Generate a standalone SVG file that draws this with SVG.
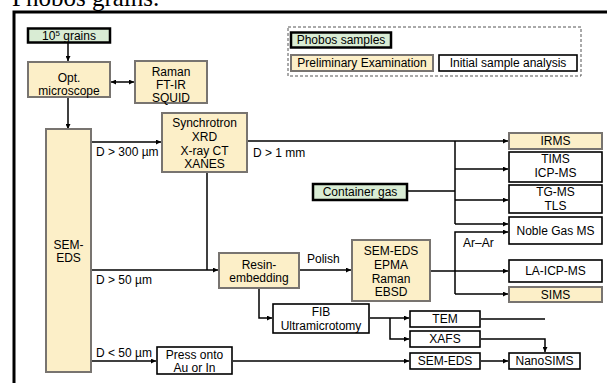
<svg xmlns="http://www.w3.org/2000/svg" width="607" height="383" viewBox="0 0 607 383">
<defs>
<marker id="ah" viewBox="0 0 10 10" refX="10" refY="5" markerWidth="5" markerHeight="5" orient="auto-start-reverse" markerUnits="userSpaceOnUse"><path d="M0,0 L10,5 L0,10 z" fill="#000"/></marker>
<style>
text{font-family:"Liberation Sans",Arial,sans-serif;font-size:12px;fill:#000;text-anchor:middle}
.lbl{text-anchor:start}
.pe{fill:#fcefc8;stroke:#787470;stroke-width:2}
.ps{fill:#d9ecd4;stroke:#000;stroke-width:2.5}
.ia{fill:#fff;stroke:#000;stroke-width:1.6}
.c{fill:none;stroke:#000;stroke-width:1.5}
.a{marker-end:url(#ah)}
</style>
</defs>
<rect width="607" height="383" fill="#fff"/>
<text x="12" y="6" style="font-family:'Liberation Serif','Times New Roman',serif;font-size:25px;text-anchor:start">Phobos grains.</text>
<path d="M14,383 V12 H607" fill="none" stroke="#000" stroke-width="3"/>

<g id="legend">
<rect x="288" y="27" width="293" height="49" fill="none" stroke="#555" stroke-width="1" stroke-dasharray="3,2"/>
<rect class="ps" x="291" y="32.5" width="100" height="15"/><text x="341" y="44.3">Phobos samples</text>
<rect class="pe" x="291" y="55" width="142" height="16"/><text x="362" y="67.3">Preliminary Examination</text>
<rect class="ia" x="439" y="55" width="138" height="16"/><text x="508" y="67.3">Initial sample analysis</text>
</g>

<g id="connectors">
<path class="c a" d="M68,43 V61"/>
<path class="c a" d="M68,97 V129"/>
<path class="c" d="M111,82 H134" marker-start="url(#ah)" marker-end="url(#ah)"/>
<path class="c a" d="M92,142 H161"/>
<path class="c a" d="M248,141 H508"/>
<path class="c" d="M455,141 V224"/>
<path class="c a" d="M455,169 H508"/>
<path class="c a" d="M455,200 H508"/>
<path class="c a" d="M455,224 H508"/>
<path class="c" d="M408,191 H455"/>
<path class="c a" d="M455,294 V232 H508"/>
<path class="c a" d="M455,294 H508"/>
<path class="c a" d="M431,271 H508"/>
<path class="c" d="M207,172 V270"/>
<path class="c a" d="M92,270 H218"/>
<path class="c a" d="M300,270 H351"/>
<path class="c a" d="M259,288 V318 H272"/>
<path class="c a" d="M370,318 H409"/>
<path class="c a" d="M390,318 V339 H409"/>
<path class="c" d="M481,319 H545"/>
<path class="c a" d="M481,339 H545 V352"/>
<path class="c a" d="M92,361 H156"/>
<path class="c a" d="M233,361 H409"/>
<path class="c a" d="M481,361 H508"/>
</g>
<g id="edge-labels">
<text class="lbl" x="96" y="156">D &gt; 300 µm</text>
<text class="lbl" x="253" y="157">D &gt; 1 mm</text>
<text class="lbl" x="96" y="284">D &gt; 50 µm</text>
<text class="lbl" x="96" y="357">D &lt; 50 µm</text>
<text class="lbl" x="307" y="263">Polish</text>
<text class="lbl" x="463" y="247">Ar–Ar</text>
</g>

<g id="grains"><rect class="ps" x="28" y="28.5" width="82" height="14"/><text x="69" y="40">10<tspan dy="-4" font-size="8">5</tspan><tspan dy="4"> grains</tspan></text></g>
<g id="opt"><rect class="pe" x="28" y="62" width="82" height="35"/><text x="69" y="82">Opt.</text><text x="69" y="95">microscope</text></g>
<g id="raman"><rect class="pe" x="135" y="61" width="72" height="42"/><text x="171" y="75.5">Raman</text><text x="171" y="88.5">FT-IR</text><text x="171" y="101.5">SQUID</text></g>
<g id="semeds"><rect class="pe" x="46" y="129" width="45" height="243"/><text x="68.5" y="249">SEM-</text><text x="68.5" y="261.5">EDS</text></g>
<g id="synchrotron"><rect class="pe" x="162" y="113" width="85" height="59"/><text x="204.5" y="126.5">Synchrotron</text><text x="204.5" y="140.5">XRD</text><text x="204.5" y="154.5">X-ray CT</text><text x="204.5" y="168">XANES</text></g>
<g id="irms"><rect class="pe" x="509" y="133" width="93" height="16"/><text x="555.5" y="145.3">IRMS</text></g>
<g id="tims"><rect class="ia" x="509" y="152" width="93" height="30"/><text x="555.5" y="163">TIMS</text><text x="555.5" y="177">ICP-MS</text></g>
<g id="tgms"><rect class="ia" x="509" y="185" width="93" height="28"/><text x="555.5" y="195.5">TG-MS</text><text x="555.5" y="209.5">TLS</text></g>
<g id="noblegas"><rect class="ia" x="509" y="217" width="93" height="27"/><text x="555.5" y="234.8">Noble Gas MS</text></g>
<g id="containergas"><rect class="ps" x="313" y="184" width="94" height="16"/><text x="360" y="196.3">Container gas</text></g>
<g id="laicpms"><rect class="ia" x="509" y="260" width="93" height="22"/><text x="555.5" y="275.3">LA-ICP-MS</text></g>
<g id="sims"><rect class="pe" x="509" y="287" width="93" height="15"/><text x="555.5" y="298.8">SIMS</text></g>
<g id="resin"><rect class="pe" x="219" y="253" width="80" height="35"/><text x="259" y="268.5">Resin-</text><text x="259" y="282">embedding</text></g>
<g id="semepma"><rect class="pe" x="352" y="240" width="78" height="61"/><text x="391" y="255.3">SEM-EDS</text><text x="391" y="269">EPMA</text><text x="391" y="282.5">Raman</text><text x="391" y="296">EBSD</text></g>
<g id="fib"><rect class="ia" x="273" y="304" width="96" height="29"/><text x="321" y="316">FIB</text><text x="321" y="330">Ultramicrotomy</text></g>
<g id="tem"><rect class="ia" x="410" y="311" width="70" height="16"/><text x="445" y="323.3">TEM</text></g>
<g id="xafs"><rect class="ia" x="410" y="331" width="70" height="16"/><text x="445" y="343.3">XAFS</text></g>
<g id="semeds2"><rect class="ia" x="410" y="353" width="70" height="16"/><text x="445" y="365.3">SEM-EDS</text></g>
<g id="nanosims"><rect class="ia" x="509" y="353" width="71" height="16"/><text x="544.5" y="365.3">NanoSIMS</text></g>
<g id="press"><rect class="ia" x="157" y="347" width="75" height="27"/><text x="194.5" y="358.5">Press onto</text><text x="194.5" y="372">Au or In</text></g>
</svg>
